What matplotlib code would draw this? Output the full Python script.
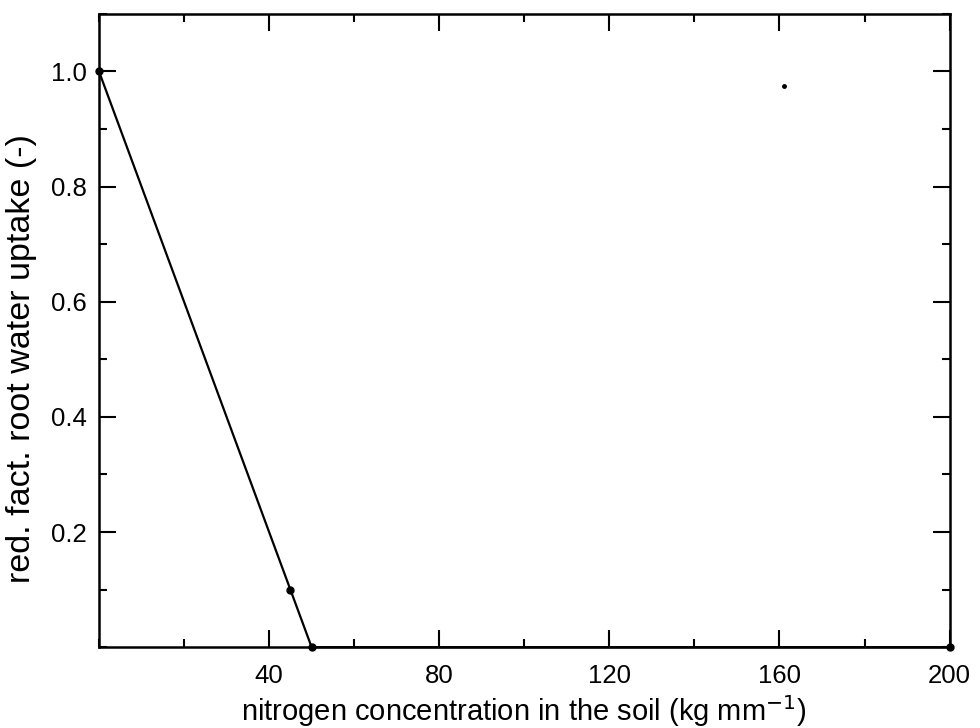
import matplotlib
matplotlib.use('Agg')
import matplotlib.pyplot as plt
from matplotlib.ticker import MultipleLocator

# data
nitrogen = [0, 45, 50, 200]
red_fact = [1.0, 0.1, 0.0, 0.0]
stray_x = [161]
stray_y = [0.975]

plt.rcParams['font.family'] = ['Liberation Sans', 'DejaVu Sans']

fig = plt.figure(figsize=(9.8, 7.28), dpi=100)
ax = fig.add_axes([0.101, 0.111, 0.868, 0.870])

ax.plot(nitrogen, red_fact, color='black', lw=1.6, marker='o', ms=5, clip_on=False, zorder=3)
ax.plot(stray_x, stray_y, 'o', color='black', ms=2.5)

ax.set_xlim(0, 200)
ax.set_ylim(0, 1.1)
ax.set_xticks([40, 80, 120, 160, 200])
ax.set_yticks([0.2, 0.4, 0.6, 0.8, 1.0])
ax.set_yticklabels(['0.2', '0.4', '0.6', '0.8', '1.0'])
ax.xaxis.set_minor_locator(MultipleLocator(20))
ax.yaxis.set_minor_locator(MultipleLocator(0.1))
ax.tick_params(which='both', direction='in', top=True, right=True, width=1.5, labelsize=18.5)
ax.tick_params(axis='x', which='major', pad=12)
ax.tick_params(axis='y', which='major', pad=9)
ax.tick_params(which='major', length=12)
ax.tick_params(which='minor', length=6)
for s in ax.spines.values():
    s.set_linewidth(1.8)

ax.set_xlabel('nitrogen concentration in the soil (kg mm$^{-1}$)', fontsize=21, labelpad=4)
ax.set_ylabel('red. fact. root water uptake (-)', fontsize=24.5)
ax.yaxis.set_label_coords(-0.073, 0.455)

fig.savefig('out.png', dpi=100)
